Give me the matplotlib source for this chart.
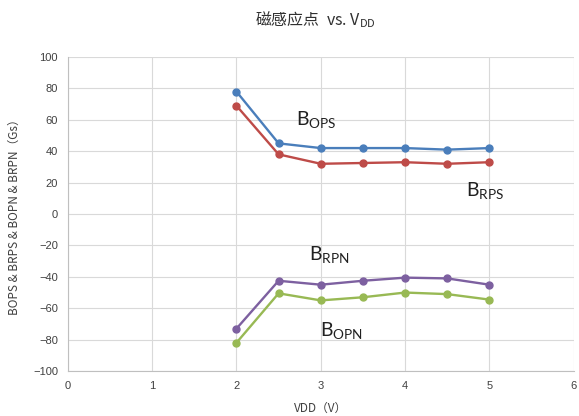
import matplotlib
matplotlib.use("Agg")
import matplotlib.pyplot as plt

plt.rcParams['font.family'] = ['Noto Sans CJK SC', 'DejaVu Sans']

vdd = [2, 2.5, 3, 3.5, 4, 4.5, 5]
bops = [78, 45, 42, 42, 42, 41, 42]
brps = [69, 38, 32, 32.5, 33, 32, 33]
brpn = [-73, -42.5, -45, -42.5, -40.5, -41, -45]
bopn = [-82, -50.5, -55, -53, -50, -51, -54.5]

xticks = [0, 1, 2, 3, 4, 5, 6]
yticks = list(range(-100, 101, 20))

fig = plt.figure(figsize=(5.79, 4.16), dpi=100)
ax = fig.add_axes([0.117, 0.108, 0.874, 0.755])

series = [(bops, '#4A7EBB'), (brps, '#BE4B48'), (brpn, '#7D60A0'), (bopn, '#98B954')]
for vals, col in series:
    ax.plot(vdd, vals, color=col, lw=1.7, marker='o', ms=5, solid_joinstyle='round')

ax.set_xlim(0, 6)
ax.set_ylim(-100, 100)
ax.set_xticks(xticks)
ax.set_yticks(yticks)
ax.grid(True, color='#d9d9d9', lw=0.8)
ax.set_axisbelow(True)
for s in ['top', 'right']:
    ax.spines[s].set_visible(False)
for s in ['left', 'bottom']:
    ax.spines[s].set_color('#bfbfbf')
ax.tick_params(length=0, labelsize=8, labelcolor='#404040', pad=7)
for t in ax.get_xticklabels() + ax.get_yticklabels():
    t.set_family('Liberation Sans')

fig.text(0.545, 0.953, '磁感应点  vs. V$_{\\mathregular{DD}}$', ha='center', va='center',
         fontsize=11.5, color='#303030')
ax.set_ylabel('BOPS & BRPS & BOPN & BRPN（Gs）', fontsize=8.5, color='#404040', labelpad=9)
ax.set_xlabel('VDD（V）', fontsize=8.5, color='#404040', labelpad=8)

lab = dict(fontsize=14, color='#202020', ha='center', va='center', family='Lato')
ax.text(2.95, 60, r'$\mathregular{B_{OPS}}$', **lab)
ax.text(4.95, 15, r'$\mathregular{B_{RPS}}$', **lab)
ax.text(3.1, -26, r'$\mathregular{B_{RPN}}$', **lab)
ax.text(3.25, -74, r'$\mathregular{B_{OPN}}$', **lab)

fig.savefig('out.png', dpi=100)
